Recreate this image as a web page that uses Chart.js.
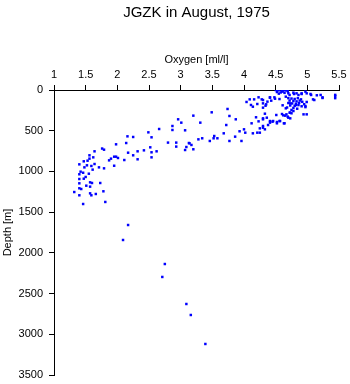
<!DOCTYPE html>
<html>
<head>
<meta charset="utf-8">
<script src="https://cdn.jsdelivr.net/npm/chart.js@4/dist/chart.umd.min.js"></script>
<style>
html,body{margin:0;padding:0;background:#fff;}
#wrap{width:350px;height:384px;}
</style>
</head>
<body>
<div id="wrap"><canvas id="c" width="350" height="384"></canvas></div>
<script>
const chartTitle = "JGZK in August, 1975";
const xTitle = "Oxygen [ml/l]";
const yTitle = "Depth [m]";
const xTicks = [1, 1.5, 2, 2.5, 3, 3.5, 4, 4.5, 5, 5.5];
const yTicks = [0, 500, 1000, 1500, 2000, 2500, 3000, 3500];

const oxygen = [
4.50,4.53,4.56,4.60,4.63,4.66,4.69,4.52,4.58,4.64,4.70,4.55,4.61,
4.97,5.44,5.44,5.21,5.24,5.11,5.06,4.99,4.91,4.86,4.79,4.72,4.66,4.78,4.83,4.91,5.05,5.15,5.24,5.44,5.09,4.99,
4.70,4.75,4.80,4.85,4.90,4.72,4.78,4.83,4.88,4.92,4.70,4.76,4.82,4.87,4.73,4.80,4.86,4.91,4.68,4.78,4.95,4.97,4.84,4.75,
4.97,4.82,4.73,4.61,4.66,4.56,4.48,4.41,4.43,4.37,4.30,4.34,4.30,4.23,4.21,4.16,4.09,4.04,4.11,4.14,4.28,4.35,4.30,4.41,4.49,
4.78,4.73,4.67,4.62,4.70,4.94,4.99,4.36,4.30,4.41,4.46,4.52,4.57,4.63,4.30,4.33,
3.74,3.49,3.77,3.87,4.19,4.33,4.30,4.51,4.60,4.65,4.72,4.75,4.69,4.73,
4.12,4.23,4.30,4.25,4.41,4.45,4.52,4.56,4.64,4.38,4.21,4.25,4.14,4.02,4.00,3.93,3.72,3.68,3.86,3.77,3.96,3.53,3.58,3.46,3.52,3.34,3.28,3.14,3.17,3.09,3.20,3.07,3.01,3.07,3.20,
2.96,2.87,2.87,2.66,2.49,2.54,2.16,2.25,3.31,2.80,2.93,3.13,2.93,2.14,1.98,2.42,2.52,2.54,2.62,2.32,2.17,2.25,2.32,2.54,2.11,1.98,1.95,2.01,1.90,1.87,1.76,1.79,1.64,1.56,1.56,1.62,1.53,1.40,1.47,1.52,1.48,1.59,1.64,1.71,1.79,1.95,1.61,1.42,1.46,1.40,1.55,1.50,1.47,1.40,1.57,1.60,1.51,1.57,1.73,1.40,1.40,1.43,1.32,1.57,1.59,1.66,1.78,1.40,
1.46,1.81,2.17,2.09,2.75,2.71,3.09,3.16,3.39
];
const depth = [
0,5,0,10,0,5,15,25,30,35,40,45,20,
20,60,100,61,90,123,61,41,49,61,49,61,82,33,41,41,49,65,98,74,115,147,
100,105,110,100,115,130,135,140,130,145,160,165,170,160,190,195,185,200,215,220,175,210,230,245,
197,184,164,188,225,111,90,90,131,143,123,193,164,90,172,115,115,147,184,205,115,176,217,94,107,
258,278,299,311,340,299,299,340,360,381,381,393,381,409,463,483,
233,274,319,360,335,291,348,307,295,315,278,286,327,348,
409,385,442,471,401,389,409,381,409,430,524,524,532,524,483,507,430,532,573,626,626,565,593,626,593,593,606,655,675,700,728,737,401,495,315,
360,442,491,479,520,581,569,577,401,646,646,651,695,651,667,741,704,765,753,753,770,802,851,827,860,819,819,835,843,864,719,733,753,802,843,827,868,913,876,925,950,933,909,950,962,930,978,1003,1016,1035,1028,1068,1089,1093,1134,1142,1175,1187,1142,1146,1207,1216,1253,1269,1293,1277,1244,1293,
1400,1375,1658,1842,2137,2296,2628,2763,3119
];

const points = oxygen.map((v, i) => ({x: v, y: depth[i]}));
const FONT = "'Liberation Sans', Arial, Helvetica, sans-serif";
Chart.defaults.font.family = FONT;
Chart.defaults.color = '#000';

new Chart(document.getElementById('c'), {
  type: 'scatter',
  data: {
    datasets: [{
      data: points,
      pointStyle: 'rect',
      pointRadius: 1.75,
      pointBorderWidth: 0,
      backgroundColor: '#0000ff',
      borderColor: '#0000ff'
    }]
  },
  options: {
    responsive: false,
    animation: false,
    devicePixelRatio: 1,
    layout: {padding: {left: 0, right: 11, top: 0, bottom: 9}},
    plugins: {
      legend: {display: false},
      tooltip: {enabled: false},
      title: {
        display: true,
        text: chartTitle,
        fullSize: false,
        font: {size: 15, weight: 'normal', family: FONT},
        color: '#000',
        padding: {top: 4, bottom: 0}
      }
    },
    scales: {
      x: {
        type: 'linear',
        position: 'top',
        min: 1, max: 5.5,
        afterBuildTicks: s => { s.ticks = xTicks.map(v => ({value: v})); },
        afterFit: s => { s.height = 68; s.paddingLeft = 0; s.paddingRight = 0; },
        ticks: {
          autoSkip: false, maxRotation: 0, padding: 3,
          font: {size: 11, family: FONT}, color: '#000',
          callback: v => String(v)
        },
        grid: {display: true, drawOnChartArea: false, drawTicks: true, tickLength: 5, color: '#000'},
        border: {display: true, color: '#000', width: 1},
        title: {display: true, text: xTitle, font: {size: 11, family: FONT}, color: '#000', padding: {top: 31, bottom: 0}}
      },
      y: {
        type: 'linear',
        position: 'left',
        reverse: true,
        min: 0, max: 3500,
        afterBuildTicks: s => { s.ticks = yTicks.map(v => ({value: v})); },
        afterFit: s => { s.width = 54; s.paddingTop = 0; s.paddingBottom = 0; },
        ticks: {
          autoSkip: false, padding: 6,
          font: {size: 11, family: FONT}, color: '#000',
          callback: v => String(v)
        },
        grid: {display: true, drawOnChartArea: false, drawTicks: true, tickLength: 5, color: '#000'},
        border: {display: true, color: '#000', width: 1},
        title: {display: true, text: yTitle, font: {size: 11, family: FONT}, color: '#000', padding: {top: 1, bottom: 0}}
      }
    }
  }
});
</script>
</body>
</html>
